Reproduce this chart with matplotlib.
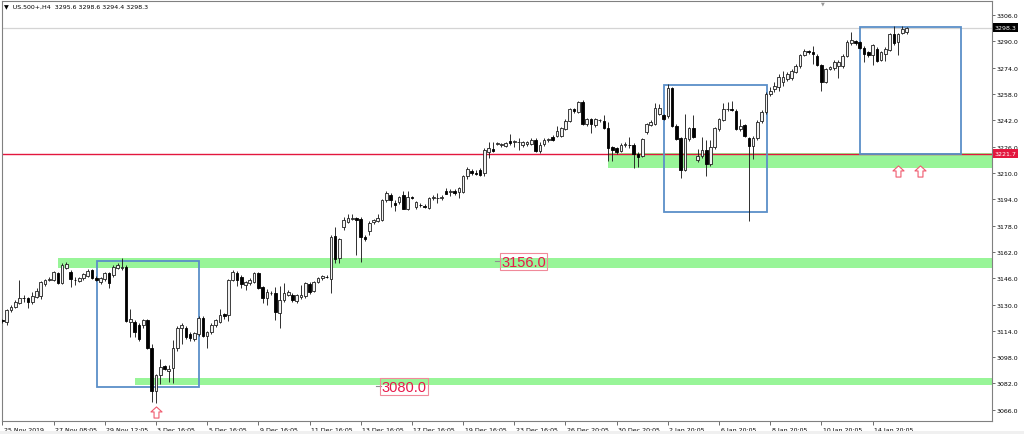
import numpy as np
import matplotlib.pyplot as plt
from matplotlib.patches import Rectangle
from matplotlib.path import Path
from matplotlib.transforms import ScaledTranslation, blended_transform_factory
from matplotlib import font_manager

# US.500+ H4 candles (one entry per bar)
opens = [
    3120.5, 3119.6, 3126.6, 3128.7, 3131.2, 3134.0, 3133.8, 3131.7, 3134.7, 3135.0,
    3142.2, 3145.0, 3144.8, 3148.9, 3143.2, 3152.0, 3150.0, 3145.0, 3144.5, 3146.0,
    3147.5, 3151.0, 3146.2, 3143.7, 3145.8, 3148.9, 3147.8, 3152.4, 3152.0, 3153.0,
    3119.5, 3119.2, 3117.5, 3117.5, 3120.5, 3103.4, 3077.2, 3087.2, 3092.9, 3089.5,
    3091.5, 3103.4, 3115.6, 3115.6, 3111.9, 3109.0, 3112.0, 3122.0, 3111.0, 3113.5,
    3117.5, 3119.6, 3124.0, 3123.6, 3144.8, 3148.9, 3146.8, 3141.6, 3143.0, 3143.8,
    3148.9, 3140.8, 3134.1, 3136.7, 3137.2, 3124.6, 3132.7, 3136.0, 3135.7, 3132.0,
    3134.5, 3135.0, 3142.4, 3138.4, 3143.8, 3146.0, 3147.0, 3145.8, 3171.8, 3158.0,
    3177.2, 3180.2, 3182.0, 3182.3, 3182.0, 3171.0, 3174.5, 3180.0, 3181.0, 3181.5,
    3193.3, 3196.3, 3192.0, 3192.3, 3196.3, 3188.3, 3195.2, 3189.0, 3190.5, 3190.0,
    3188.7, 3195.0, 3194.5, 3195.0, 3199.3, 3198.5, 3199.0, 3198.4, 3198.4, 3208.4,
    3211.4, 3210.0, 3212.0, 3210.0, 3222.6, 3224.6, 3227.6, 3227.0, 3226.6, 3229.6,
    3228.8, 3228.5, 3227.0, 3227.5, 3227.6, 3230.2, 3223.6, 3227.6, 3230.0, 3231.8,
    3232.7, 3232.7, 3236.7, 3241.7, 3248.8, 3247.2, 3252.9, 3239.8, 3242.5, 3239.2,
    3242.0, 3241.7, 3237.2, 3225.5, 3225.0, 3223.6, 3227.0, 3227.0, 3227.0, 3221.6,
    3220.2, 3234.7, 3239.2, 3239.8, 3245.6, 3245.2, 3244.8, 3261.4, 3238.8, 3231.0,
    3212.0, 3230.7, 3237.2, 3218.0, 3220.2, 3224.2, 3215.5, 3225.6, 3236.7, 3242.4,
    3248.8, 3248.5, 3247.8, 3236.7, 3239.2, 3231.0, 3226.6, 3231.0, 3241.7, 3246.9,
    3258.0, 3261.0, 3262.0, 3265.5, 3267.0, 3267.5, 3271.4, 3275.0, 3281.6, 3284.0,
    3283.2, 3281.2, 3275.5, 3265.4, 3273.0, 3273.5, 3275.0, 3274.7, 3281.2, 3289.0,
    3290.2, 3289.3, 3286.2, 3283.2, 3281.6, 3285.6, 3278.7, 3282.2, 3284.8, 3294.3,
    3289.3, 3295.3, 3295.6,
]
highs = [
    3121.5, 3127.5, 3130.0, 3132.5, 3144.8, 3135.5, 3134.5, 3137.8, 3140.0, 3144.3,
    3145.5, 3146.5, 3150.5, 3150.0, 3155.0, 3156.0, 3151.0, 3147.0, 3147.0, 3149.0,
    3151.5, 3151.5, 3147.5, 3146.5, 3150.0, 3149.5, 3154.0, 3155.0, 3158.0, 3154.0,
    3127.0, 3120.5, 3119.0, 3121.5, 3121.0, 3106.0, 3088.0, 3097.0, 3093.5, 3093.0,
    3108.5, 3117.0, 3118.5, 3117.0, 3113.0, 3113.5, 3123.0, 3123.0, 3114.0, 3118.5,
    3121.5, 3127.5, 3125.0, 3145.5, 3151.0, 3150.5, 3148.0, 3144.5, 3146.0, 3149.5,
    3150.0, 3141.5, 3139.5, 3138.0, 3140.5, 3141.0, 3143.0, 3139.0, 3137.0, 3136.5,
    3142.0, 3143.5, 3143.5, 3144.5, 3147.0, 3148.0, 3148.0, 3172.0, 3177.0, 3170.5,
    3183.0, 3185.0, 3185.0, 3183.5, 3183.0, 3172.0, 3181.0, 3182.0, 3185.0, 3194.0,
    3199.0, 3197.5, 3193.5, 3196.0, 3199.0, 3199.0, 3196.0, 3193.0, 3192.0, 3191.0,
    3195.5, 3196.5, 3197.5, 3196.5, 3201.0, 3200.5, 3200.0, 3201.5, 3209.0, 3213.5,
    3212.5, 3211.5, 3212.8, 3225.0, 3229.0, 3228.8, 3228.5, 3228.0, 3229.0, 3233.7,
    3230.0, 3231.0, 3229.5, 3229.5, 3231.0, 3231.5, 3228.5, 3231.0, 3231.0, 3233.0,
    3238.5, 3238.0, 3242.5, 3249.5, 3249.5, 3253.5, 3254.5, 3243.5, 3243.5, 3243.5,
    3243.0, 3245.0, 3241.0, 3226.5, 3226.0, 3228.0, 3228.5, 3232.0, 3228.0, 3222.5,
    3231.5, 3240.5, 3242.0, 3252.5, 3252.0, 3246.0, 3264.0, 3262.5, 3240.0, 3232.0,
    3245.8, 3238.0, 3245.5, 3224.5, 3232.0, 3230.0, 3230.0, 3238.0, 3243.5, 3252.5,
    3253.0, 3253.9, 3249.0, 3242.5, 3240.0, 3232.0, 3232.5, 3242.0, 3248.0, 3259.0,
    3262.5, 3265.0, 3270.0, 3272.0, 3271.5, 3273.0, 3276.0, 3282.5, 3285.5, 3285.0,
    3287.0, 3282.0, 3276.5, 3273.8, 3275.0, 3278.5, 3278.5, 3282.0, 3290.5, 3295.7,
    3291.0, 3290.0, 3287.0, 3284.0, 3288.5, 3286.5, 3284.0, 3286.5, 3295.0, 3299.0,
    3295.0, 3299.5, 3298.6,
]
lows = [
    3119.0, 3117.5, 3125.5, 3128.0, 3130.5, 3131.5, 3128.0, 3130.5, 3134.0, 3133.5,
    3141.0, 3144.0, 3144.0, 3142.5, 3142.5, 3151.5, 3140.8, 3142.0, 3143.5, 3145.0,
    3147.0, 3145.5, 3144.0, 3142.5, 3144.5, 3139.8, 3147.0, 3151.5, 3151.0, 3119.5,
    3110.5, 3110.5, 3108.0, 3116.0, 3103.0, 3071.0, 3070.0, 3081.5, 3090.0, 3083.0,
    3082.2, 3102.0, 3106.0, 3109.0, 3108.0, 3108.0, 3111.0, 3110.0, 3103.4, 3112.0,
    3116.5, 3119.0, 3121.0, 3120.0, 3144.0, 3141.0, 3140.0, 3139.0, 3142.0, 3143.0,
    3139.5, 3131.0, 3130.0, 3135.5, 3120.5, 3116.0, 3131.5, 3135.0, 3131.5, 3131.0,
    3133.5, 3134.0, 3136.5, 3137.5, 3143.0, 3145.0, 3146.0, 3136.7, 3155.0, 3155.5,
    3175.0, 3179.5, 3181.5, 3160.0, 3156.0, 3168.5, 3172.0, 3179.0, 3180.0, 3181.0,
    3192.5, 3189.5, 3187.0, 3191.0, 3188.0, 3187.5, 3194.0, 3188.0, 3189.5, 3188.5,
    3188.0, 3193.5, 3191.5, 3193.5, 3197.0, 3196.0, 3196.5, 3194.5, 3197.5, 3206.0,
    3209.0, 3208.5, 3208.0, 3208.0, 3219.0, 3222.5, 3226.8, 3226.0, 3225.5, 3227.0,
    3226.0, 3224.0, 3226.0, 3226.5, 3227.0, 3222.5, 3222.0, 3226.5, 3229.0, 3229.5,
    3232.0, 3232.0, 3236.0, 3241.0, 3246.5, 3246.5, 3239.0, 3238.5, 3234.0, 3238.0,
    3241.0, 3236.5, 3217.0, 3217.5, 3221.5, 3222.5, 3226.0, 3225.0, 3212.9, 3213.5,
    3219.5, 3233.5, 3238.5, 3239.0, 3245.0, 3242.0, 3243.5, 3238.0, 3230.0, 3206.8,
    3211.0, 3229.5, 3231.0, 3216.5, 3219.0, 3208.4, 3214.0, 3224.5, 3235.5, 3241.5,
    3247.5, 3247.5, 3236.0, 3235.5, 3232.0, 3180.5, 3218.5, 3230.0, 3240.5, 3246.0,
    3256.5, 3259.0, 3260.0, 3263.0, 3266.0, 3266.5, 3270.5, 3274.0, 3281.0, 3282.5,
    3276.0, 3275.0, 3260.0, 3264.5, 3272.5, 3272.5, 3267.5, 3274.0, 3280.5, 3288.0,
    3288.0, 3285.5, 3277.5, 3280.5, 3275.5, 3277.5, 3278.0, 3278.0, 3284.0, 3288.0,
    3281.6, 3294.5, 3294.4,
]
closes = [
    3120.0, 3126.6, 3128.7, 3131.7, 3134.0, 3133.8, 3131.7, 3135.3, 3138.2, 3143.8,
    3144.8, 3145.4, 3149.5, 3143.2, 3154.3, 3154.9, 3145.4, 3144.8, 3146.0, 3148.5,
    3150.3, 3146.2, 3145.0, 3146.2, 3148.9, 3143.2, 3153.0, 3154.0, 3153.0, 3119.9,
    3121.0, 3113.5, 3109.0, 3120.5, 3103.4, 3077.2, 3087.2, 3092.3, 3090.9, 3091.0,
    3103.4, 3115.9, 3117.3, 3110.5, 3109.5, 3112.5, 3122.0, 3111.1, 3113.0, 3117.5,
    3120.5, 3123.6, 3123.0, 3144.8, 3149.9, 3145.2, 3142.4, 3143.5, 3145.0, 3148.9,
    3139.8, 3133.8, 3137.8, 3136.9, 3125.2, 3132.7, 3136.7, 3137.5, 3132.7, 3135.9,
    3136.0, 3142.8, 3137.8, 3143.8, 3146.4, 3147.2, 3146.5, 3171.2, 3157.5, 3169.7,
    3181.2, 3182.6, 3182.2, 3181.5, 3171.2, 3169.7, 3179.8, 3181.2, 3182.5, 3193.3,
    3198.0, 3193.3, 3190.5, 3195.4, 3188.3, 3195.4, 3194.8, 3192.5, 3190.4, 3189.2,
    3194.8, 3195.2, 3194.8, 3195.3, 3197.3, 3198.7, 3197.8, 3200.8, 3208.4, 3212.5,
    3210.0, 3209.2, 3208.8, 3224.2, 3225.0, 3223.2, 3227.7, 3227.1, 3228.2, 3228.2,
    3228.9, 3228.6, 3229.0, 3229.0, 3230.0, 3223.6, 3227.0, 3230.2, 3230.1, 3230.0,
    3235.7, 3237.2, 3241.7, 3248.8, 3247.8, 3252.9, 3239.8, 3242.8, 3240.0, 3242.8,
    3242.2, 3237.2, 3225.0, 3224.0, 3223.0, 3227.0, 3227.1, 3226.8, 3221.6, 3219.6,
    3230.6, 3239.8, 3240.8, 3249.3, 3249.3, 3242.8, 3261.4, 3238.8, 3230.7, 3212.0,
    3231.0, 3237.2, 3232.0, 3220.2, 3224.2, 3215.5, 3225.6, 3237.2, 3242.8, 3248.8,
    3249.0, 3248.3, 3236.7, 3238.8, 3232.7, 3226.6, 3231.5, 3241.1, 3247.2, 3258.0,
    3260.0, 3263.0, 3268.0, 3268.0, 3270.0, 3272.0, 3275.0, 3281.6, 3284.2, 3283.5,
    3282.2, 3275.5, 3265.4, 3273.1, 3274.3, 3277.5, 3277.5, 3281.2, 3289.3, 3290.5,
    3288.8, 3286.2, 3282.2, 3281.6, 3287.6, 3278.1, 3283.2, 3285.2, 3294.3, 3288.8,
    3294.3, 3297.3, 3298.3,
]

time_labels = ["25 Nov 2019", "27 Nov 08:05", "29 Nov 12:05", "3 Dec 16:05", "5 Dec 16:05",
               "9 Dec 16:05", "11 Dec 16:05", "13 Dec 16:05", "17 Dec 16:05", "19 Dec 16:05",
               "23 Dec 16:05", "26 Dec 20:05", "30 Dec 20:05", "2 Jan 20:05", "6 Jan 20:05",
               "8 Jan 20:05", "10 Jan 20:05", "14 Jan 20:05"]
bars_per_label = 12
price_ticks = np.arange(3066, 3307, 16)

last_price = 3298.3
red_level = 3221.7

# green zones: first bar, top, bottom
zone_start = [142, 13, 31]
zone_top = [3222.2, 3158.1, 3085.4]
zone_bottom = [3212.8, 3152.5, 3081.3]

# blue rectangles: bar from/to, top, bottom
rect_from = [22.15, 155.1, 201.1]
rect_to = [46.2, 179.2, 224.8]
rect_top = [3156.6, 3263.4, 3298.5]
rect_bottom = [3079.7, 3186.1, 3221.5]

# up arrows (bar, price)
arrow_bar = [36.0, 210.0, 215.2]
arrow_price = [3064.8, 3211.3, 3211.3]

# text labels on chart
note_text = ["3156.0", "3080.0"]
note_bar = [116.9, 88.9]
note_price = [3156.0, 3080.0]

o = np.array(opens); h = np.array(highs); l = np.array(lows); c = np.array(closes)
x = np.arange(len(c))

fig = plt.figure(figsize=(10.24, 4.35), dpi=100)
ax = fig.add_axes([2 / 1024, 1 - 421.5 / 435, 990 / 1024, 419.5 / 435])

# zones and rectangles
for s, t, b in zip(zone_start, zone_top, zone_bottom):
    ax.add_patch(Rectangle((s, b), 300 - s, t - b, fc='#98f598', ec='none', zorder=1))
for x0, x1, t, b in zip(rect_from, rect_to, rect_top, rect_bottom):
    ax.add_patch(Rectangle((x0, b), x1 - x0, t - b, fill=False, ec='#5a8fc8', lw=1.3, zorder=3))

ax.axhline(last_price, color='#d4d4d4', lw=0.9, zorder=1.5)
ax.axhline(red_level, color='#e3173e', lw=1.0, zorder=2)

# candles
up = c >= o
body_lo = np.minimum(o, c)
body_h = np.maximum(np.abs(c - o), 0.35)
ax.vlines(x, l, h, color='#202020', lw=0.65, zorder=4)
ax.bar(x[up], body_h[up], bottom=body_lo[up], width=0.62, color='#f2f2f2',
       edgecolor='#202020', lw=0.6, zorder=5)
ax.bar(x[~up], body_h[~up], bottom=body_lo[~up], width=0.62, color='black',
       edgecolor='black', lw=0.6, zorder=5)

# arrows
verts = [(-0.22, -0.5), (0.22, -0.5), (0.22, 0.05), (0.5, 0.05), (0, 0.5),
         (-0.5, 0.05), (-0.22, 0.05), (-0.22, -0.5)]
codes = [Path.MOVETO] + [Path.LINETO] * 6 + [Path.CLOSEPOLY]
ax.plot(arrow_bar, arrow_price, ls='none', marker=Path(verts, codes), ms=8,
        mfc='white', mec='#f05a6e', mew=0.8, zorder=6)

# labels on chart
names = {f.name for f in font_manager.fontManager.ttflist}
if 'Liberation Sans Narrow' in names:
    note_font, note_size = 'Liberation Sans Narrow', 12
else:
    note_font, note_size = 'Liberation Sans', 10.5
for txt, bx, py in zip(note_text, note_bar, note_price):
    ax.plot([bx - 1.4, bx - 0.25], [py + 0.6, py + 0.6], color='#909090', lw=0.8, zorder=6)
    ax.text(bx, py, txt, family=note_font, fontsize=note_size, color='#e8194b',
            ha='left', va='center', zorder=7,
            bbox=dict(boxstyle='square,pad=0.1', fc='none', ec='#f08a9a', lw=0.8))

ax.set_xlim(-0.1, 232.0)
ax.set_ylim(3059.5, 3314.5)

for sp in ax.spines.values():
    sp.set_color('#808080')
    sp.set_linewidth(0.8)

ax.yaxis.tick_right()
ax.set_yticks(price_ticks)
ax.set_yticklabels([f'{v:.1f}' for v in price_ticks])
ax.tick_params(axis='y', direction='out', length=2, width=0.6, pad=1.5,
               labelsize=4.5, color='#555555')
label_pos = np.arange(len(time_labels)) * bars_per_label
ax.set_xticks(label_pos)
ax.set_xticklabels(time_labels, ha='left')
ax.tick_params(axis='x', direction='out', length=3, width=0.6, pad=1.5,
               labelsize=4.5, color='#555555')
shift = ScaledTranslation(1.5 / 100, 0, fig.dpi_scale_trans)
for lab in ax.get_xticklabels():
    lab.set_transform(lab.get_transform() + shift)

# price tags on the right scale
tr = blended_transform_factory(ax.transAxes, ax.transData)
for val, col in [(last_price, 'black'), (red_level, '#e3173e')]:
    ax.text(1.0 + 2.5 / 990, val, f'{val:.1f}', transform=tr, ha='left', va='center',
            fontsize=4.5, color='white', zorder=8, clip_on=False,
            bbox=dict(boxstyle='square,pad=0.3', fc=col, ec='none'))

fig.text(4 / 1024, 1 - 7 / 435, '\u25bc  US.500+,H4  3295.6 3298.6 3294.4 3298.3',
         fontsize=4.5, va='center')
fig.text(823 / 1024, 1 - 4 / 435, '\u25bc', fontsize=3.5, color='#999999',
         ha='center', va='center')
fig.patches.append(Rectangle((0, 0), 1, 3 / 435, transform=fig.transFigure,
                             fc='#f0f0f0', ec='none'))

fig.savefig('out.png', dpi=100)
